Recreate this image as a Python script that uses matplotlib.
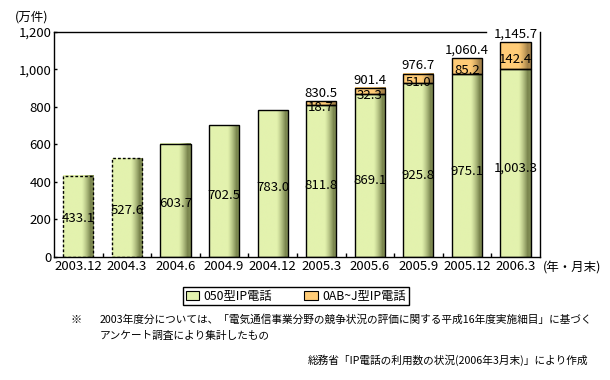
import numpy as np
import matplotlib
matplotlib.use('Agg')
import matplotlib.pyplot as plt
from matplotlib.colors import to_rgb
from matplotlib.patches import Patch, Rectangle

plt.rcParams['font.family'] = ['Noto Sans CJK JP', 'DejaVu Sans']

# data (万件)
periods = ['2003.12', '2004.3', '2004.6', '2004.9', '2004.12',
           '2005.3', '2005.6', '2005.9', '2005.12', '2006.3']
ip050 = [433.1, 527.6, 603.7, 702.5, 783.0, 811.8, 869.1, 925.8, 975.1, 1003.3]
ip0abj = [0, 0, 0, 0, 0, 18.7, 32.3, 51.0, 85.2, 142.4]
totals = [None, None, None, None, None, 830.5, 901.4, 976.7, 1060.4, 1145.7]
survey = [True, True, False, False, False, False, False, False, False, False]
yticks = [0, 200, 400, 600, 800, 1000, 1200]

green, green_dark = '#e3f2ae', '#6f7a44'
orange, orange_dark = '#ffcc77', '#9a7a44'
NUM = 9.5


def shaded_bar(ax, x, bottom, height, width, base, dark, ls='-'):
    # flat colour with a darker band on the right side, like the original
    t = np.linspace(0, 1, 80)
    w = np.clip((t - 0.6) / 0.32, 0, 1) ** 1.3
    w[t > 0.92] = 0.85
    c0, c1 = np.array(to_rgb(base)), np.array(to_rgb(dark))
    img = (c0[None, :] * (1 - w[:, None]) + c1[None, :] * w[:, None])[None]
    ax.imshow(img, extent=[x - width / 2, x + width / 2, bottom, bottom + height],
              aspect='auto', interpolation='bilinear', zorder=2)
    ax.add_patch(Rectangle((x - width / 2, bottom), width, height, fill=False,
                           edgecolor='black', linewidth=1.0, linestyle=ls,
                           zorder=3))


fig = plt.figure(figsize=(6.1, 3.8), dpi=100)
ax = fig.add_axes([0.0885, 0.3237, 0.7965, 0.5921])

x = np.arange(len(periods))
width = 0.62
for i in x:
    ls = (0, (2, 1.5)) if survey[i] else '-'
    shaded_bar(ax, i, 0, ip050[i], width, green, green_dark, ls)
    if ip0abj[i]:
        shaded_bar(ax, i, ip050[i], ip0abj[i], width, orange, orange_dark)

    ax.text(i, ip050[i] * 0.47, '{:,.1f}'.format(ip050[i]), ha='center',
            va='center', fontsize=NUM, zorder=5)
    if ip0abj[i]:
        ax.annotate('{:.1f}'.format(ip0abj[i]),
                    (i, ip050[i] + ip0abj[i] / 2), xytext=(0, -3),
                    textcoords='offset points', ha='center', va='center',
                    fontsize=NUM, zorder=5)
    if totals[i]:
        ax.annotate('{:,.1f}'.format(totals[i]), (i, totals[i]),
                    xytext=(0, 1), textcoords='offset points', ha='center',
                    va='bottom', fontsize=NUM, zorder=5)

ax.set_xlim(-0.5, len(periods) - 0.5)
ax.set_ylim(0, 1200)
ax.set_yticks(yticks)
ax.set_yticklabels(['{:,}'.format(v) for v in yticks], fontsize=NUM)
ax.set_xticks(x)
ax.set_xticklabels(periods, fontsize=NUM)
ax.set_xticks(x[:-1] + 0.5, minor=True)
ax.tick_params(axis='x', which='major', length=0, pad=2)
ax.tick_params(axis='x', which='minor', direction='in', length=3, width=1)
ax.tick_params(axis='y', direction='in', length=2.5, width=1, pad=2)
for s in ax.spines.values():
    s.set_linewidth(1.0)
ax.spines['top'].set_bounds(-0.5, 8.4)

fig.text(0.025, 0.955, '(万件)', fontsize=9, ha='left', va='center')
fig.text(0.89, 0.295, '(年・月末)', fontsize=9, ha='left', va='center')

handles = [Patch(facecolor=green, edgecolor='black', linewidth=0.8),
           Patch(facecolor=orange, edgecolor='black', linewidth=0.8)]
leg = fig.legend(handles, ['050型IP電話', '0AB~J型IP電話'], ncol=2,
                 loc='center', bbox_to_anchor=(0.485, 0.221), fontsize=8.8,
                 handlelength=1.1, handleheight=0.8, handletextpad=0.4,
                 columnspacing=2.6, borderpad=0.2, fancybox=False,
                 edgecolor='black', framealpha=1)
leg.get_frame().set_linewidth(1.0)

fig.text(0.115, 0.158, '※', fontsize=8, ha='left', va='center')
fig.text(0.164, 0.158,
         '2003年度分については、「電気通信事業分野の競争状況の評価に関する平成16年度実施細目」に基づく',
         fontsize=7.7, ha='left', va='center')
fig.text(0.164, 0.116, 'アンケート調査により集計したもの', fontsize=7.7,
         ha='left', va='center')
fig.text(0.964, 0.053, '総務省「IP電話の利用数の状況(2006年3月末)」により作成',
         fontsize=7.7, ha='right', va='center')

fig.savefig('out.png', dpi=100)
